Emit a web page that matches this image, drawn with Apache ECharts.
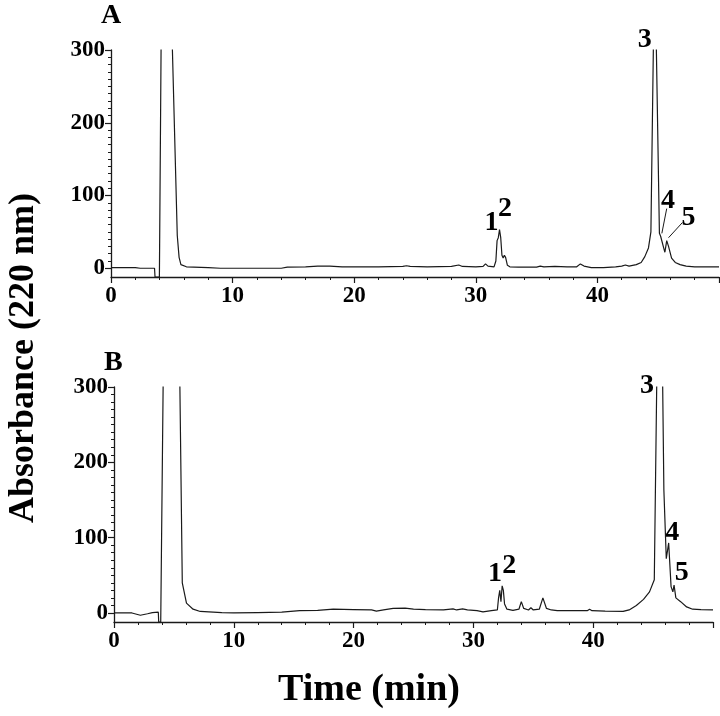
<!DOCTYPE html>
<html>
<head>
<meta charset="utf-8">
<script src="https://cdn.jsdelivr.net/npm/echarts@6/dist/echarts.min.js"></script>
<style>
  html, body { margin: 0; padding: 0; background: #fff; }
  #chart { width: 720px; height: 716px; }
</style>
</head>
<body>
<div id="chart"></div>
<script>
// panel A trace (time in min, absorbance)
const timeA = [0, 1, 2, 2.4, 3.58, 3.62, 3.98, 4.6, 5.05, 5.45, 5.6, 5.75, 6.2, 8, 9, 12, 14, 14.5, 16, 17, 18, 19, 20, 22, 24,
  24.3, 24.6, 26, 28, 28.6, 28.9, 30, 30.6, 30.8, 31.0, 31.5, 31.65, 31.75, 31.85, 31.95, 32.05, 32.15, 32.25, 32.35, 32.45,
  32.6, 32.8, 33.5, 35, 35.3, 35.6, 36.5, 37.5, 38.3, 38.6, 38.9, 39.5, 40.5, 41.5, 42.0, 42.3, 42.6, 43.2, 43.6, 43.9,
  44.2, 44.4, 44.6, 44.72, 44.85, 45.1, 45.2, 45.45, 45.55, 45.7, 45.85, 46.1, 46.4, 46.8, 47.3, 48, 50];
const absA = [1, 1, 1, 0, 0, -12, -12, 1400, 300, 45, 15, 5, 2, 1, 0, 0, 0, 1.5, 2, 3, 3, 2, 2, 2, 2.5,
  3.5, 2.5, 2, 2.5, 4.5, 2.5, 2, 2.5, 6, 3, 2, 10, 38, 42, 53, 42, 18, 14, 18, 15,
  4, 2, 1.5, 1.5, 3, 2, 2.5, 2, 2, 6, 3, 1, 1, 2, 3, 4.5, 3, 5, 8, 16,
  28, 50, 300, 420, 300, 48, 44, 28, 22, 38, 30, 14, 8, 5, 3, 2, 2];

// panel B trace
const timeB = [0, 1.5, 2.2, 2.8, 3.2, 3.7, 3.73, 3.9, 4.8, 5.5, 5.7, 6.05, 6.6, 7.2, 9, 10, 12, 14, 15.5, 17, 18.3, 20, 21.5,
  21.9, 22.5, 23.3, 24.3, 25, 26, 27.5, 28.3, 28.6, 29.1, 29.5, 30.3, 30.8, 31.5, 32.0, 32.1, 32.2, 32.3, 32.4, 32.5,
  32.6, 32.8, 33.3, 33.8, 34.0, 34.2, 34.6, 34.8, 35.0, 35.5, 35.8, 36.1, 36.5, 37, 38, 39.5, 39.7, 39.9, 41, 42.5, 43.0,
  43.6, 44.2, 44.7, 45.1, 45.3, 45.55, 45.8, 45.9, 46.1, 46.3, 46.5, 46.65, 46.75, 46.9, 47.3, 47.8, 48.3, 49, 50];
const absB = [0, 0, -3, -1, 0.5, 1, -12, -12, 1392, 300, 40, 13, 5, 2, 0.5, 0, 0.5, 1, 3, 3.5, 5, 4.5, 4,
  2.5, 4, 6, 6.5, 5, 4.5, 4, 5.5, 4, 5.5, 4, 3, 1.5, 3, 4, 20, 30, 15, 36, 30,
  12, 5, 3.5, 5, 15, 6, 4, 7, 4, 5, 20, 6, 4, 3, 3, 3, 5, 3, 2.5, 2, 4,
  10, 18, 28, 44, 300, 500, 300, 163, 72, 93, 35, 28, 37, 20, 15, 8, 5, 4.5, 4];

// peak labels [time, absorbance, text]
const peakLabelsA = [[31.3, 63, '1'], [32.4, 82, '2'], [43.9, 314, '3'], [45.8, 93, '4'], [47.5, 70, '5']];
const peakLabelsB = [[31.8, 52, '1'], [33.0, 62, '2'], [44.5, 301, '3'], [46.6, 106, '4'], [47.4, 53, '5']];
// leader lines in panel A [[t1, v1], [t2, v2]]
const leadersA = [[[45.7, 82], [45.3, 48]], [[47.0, 63], [45.85, 42]]];

const yTicks = [0, 100, 200, 300];
const yMinor = [];
for (let v = 0; v <= 300; v += 10) yMinor.push(v);

const zip = (t, v) => t.map((x, i) => [x, v[i]]);
const FONT = "'Liberation Serif', 'DejaVu Serif', serif";
const INK = "#1a1a1a";

const chart = echarts.init(document.getElementById("chart"));

function xAxisFor(gridIndex) {
  return {
    gridIndex: gridIndex,
    type: "value",
    min: 0,
    max: 50,
    interval: 10,
    axisLine: { onZero: false, lineStyle: { color: INK, width: 1.3 } },
    axisTick: { length: 6, lineStyle: { color: INK, width: 1.2 } },
    minorTick: { show: true, splitNumber: 5, length: 3, lineStyle: { color: INK } },
    axisLabel: { color: "#000", fontFamily: FONT, fontWeight: "bold", fontSize: 23, margin: 8, showMaxLabel: false },
    splitLine: { show: false }
  };
}
function yAxisFor(gridIndex) {
  return [
    {
      gridIndex: gridIndex,
      type: "value",
      min: -12,
      max: 300,
      axisLine: { show: true, lineStyle: { color: INK, width: 1.3 } },
      axisTick: { show: true, length: 6, customValues: yTicks, lineStyle: { color: INK, width: 1.2 } },
      axisLabel: { customValues: yTicks, color: "#000", fontFamily: FONT, fontWeight: "bold", fontSize: 23, margin: 6 },
      splitLine: { show: false }
    },
    {
      gridIndex: gridIndex,
      type: "value",
      position: "left",
      min: -12,
      max: 300,
      axisLine: { show: false },
      axisTick: { show: true, length: 3, customValues: yMinor, lineStyle: { color: INK } },
      axisLabel: { show: false },
      splitLine: { show: false }
    }
  ];
}
function labelSeries(xi, yi, data) {
  return {
    type: "scatter",
    xAxisIndex: xi,
    yAxisIndex: yi,
    clip: false,
    silent: true,
    symbolSize: 0,
    itemStyle: { color: "#000", opacity: 1 },
    label: {
      show: true,
      position: "inside",
      formatter: p => p.data[2],
      color: "#000",
      opacity: 1,
      textBorderWidth: 0,
      fontFamily: FONT,
      fontWeight: "bold",
      fontSize: 28
    },
    data: data
  };
}

chart.setOption({
  animation: false,
  backgroundColor: "#fff",
  grid: [
    { left: 111, top: 50, width: 608, height: 227 },
    { left: 114, top: 387, width: 599, height: 235 }
  ],
  xAxis: [xAxisFor(0), xAxisFor(1)],
  yAxis: yAxisFor(0).concat(yAxisFor(1)),
  graphic: [
    { type: "text", left: 101, top: 2, style: { text: "A", font: "bold 28px " + FONT, fill: "#000" } },
    { type: "text", left: 104, top: 349, style: { text: "B", font: "bold 28px " + FONT, fill: "#000" } },
    {
      type: "text", x: 369, y: 690,
      style: { text: "Time (min)", font: "bold 38px " + FONT, fill: "#000", align: "center", verticalAlign: "middle" }
    },
    {
      type: "text", x: 24, y: 358, rotation: Math.PI / 2,
      style: { text: "Absorbance (220 nm)", font: "bold 36px " + FONT, fill: "#000", align: "center", verticalAlign: "middle" }
    }
  ],
  series: [
    {
      type: "line",
      xAxisIndex: 0,
      yAxisIndex: 0,
      showSymbol: false,
      clip: true,
      lineStyle: { color: INK, width: 1.2 },
      data: zip(timeA, absA),
      markLine: {
        silent: true,
        symbol: "none",
        label: { show: false },
        lineStyle: { color: INK, width: 1, type: "solid" },
        data: leadersA.map(l => [{ coord: l[0] }, { coord: l[1] }])
      }
    },
    {
      type: "line",
      xAxisIndex: 1,
      yAxisIndex: 2,
      showSymbol: false,
      clip: true,
      lineStyle: { color: INK, width: 1.2 },
      data: zip(timeB, absB)
    },
    labelSeries(0, 0, peakLabelsA),
    labelSeries(1, 2, peakLabelsB)
  ]
});
</script>
</body>
</html>
